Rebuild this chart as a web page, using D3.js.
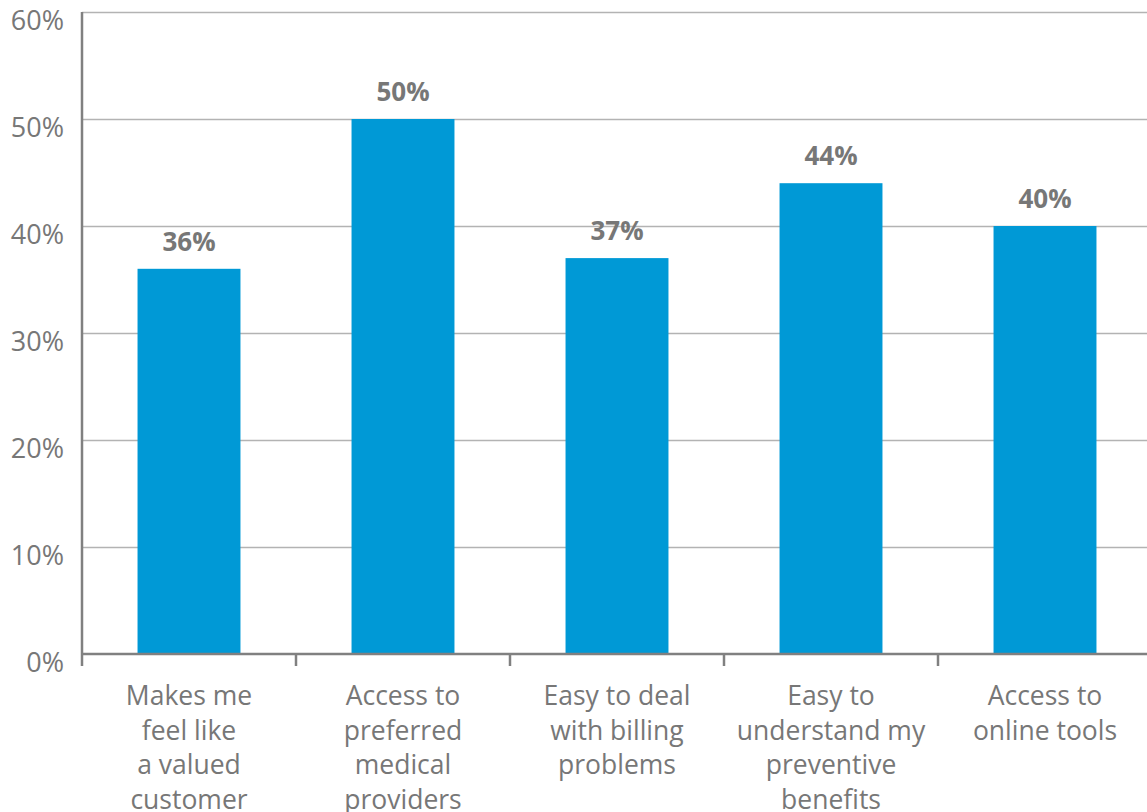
<!DOCTYPE html>
<html>
<head>
<meta charset="utf-8">
<script src="https://cdn.jsdelivr.net/npm/d3@7"></script>
<style>
  html, body { margin: 0; padding: 0; background: #fff; }
  svg { display: block; }
  text { font-family: "Open Sans", "Noto Sans", sans-serif; }
</style>
</head>
<body>
<svg id="chart" width="1147" height="812"></svg>
<script>
// Survey responses: share of respondents choosing each factor
const categories = [
  "Makes me feel like a valued customer",
  "Access to preferred medical providers",
  "Easy to deal with billing problems",
  "Easy to understand my preventive benefits",
  "Access to online tools"
];
const categoryLines = [
  ["Makes me", "feel like", "a valued", "customer"],
  ["Access to", "preferred", "medical", "providers"],
  ["Easy to deal", "with billing", "problems"],
  ["Easy to", "understand my", "preventive", "benefits"],
  ["Access to", "online tools"]
];
const values = [36, 50, 37, 44, 40];
const yTicks = [0, 10, 20, 30, 40, 50, 60];

const svg = d3.select("#chart");
const plotLeft = 82, plotRight = 1152, plotTop = 12, plotBottom = 654;

const x = d3.scaleBand()
  .domain(categories)
  .range([plotLeft, plotRight])
  .paddingInner(0.519)
  .paddingOuter(0.2595);

const y = d3.scaleLinear().domain([0, 60]).range([plotBottom, plotTop]);

const gridColor = "#b3b3b3";
const axisColor = "#808080";
const textColor = "#777777";

// Horizontal gridlines
svg.append("g")
  .selectAll("line")
  .data(yTicks.filter(d => d > 0))
  .join("line")
  .attr("x1", plotLeft)
  .attr("x2", 1147)
  .attr("y1", d => Math.round(y(d)) + 0.5)
  .attr("y2", d => Math.round(y(d)) + 0.5)
  .attr("stroke", gridColor)
  .attr("stroke-width", 1.5);

// Bars
svg.append("g")
  .selectAll("rect")
  .data(values)
  .join("rect")
  .attr("x", (d, i) => x(categories[i]))
  .attr("width", x.bandwidth())
  .attr("y", d => y(d))
  .attr("height", d => y(0) - y(d))
  .attr("fill", "#0099d6");

// Value labels above bars
svg.append("g")
  .selectAll("text")
  .data(values)
  .join("text")
  .attr("x", (d, i) => x(categories[i]) + x.bandwidth() / 2)
  .attr("y", d => y(d) - 18)
  .attr("text-anchor", "middle")
  .attr("font-size", 26)
  .attr("font-weight", 700)
  .attr("fill", textColor)
  .text(d => d + "%");

// Y axis: tick labels
const yAxis = d3.axisLeft(y)
  .tickValues(yTicks)
  .tickSize(0)
  .tickPadding(18)
  .tickFormat(d => d + "%");

const gy = svg.append("g")
  .attr("transform", `translate(${plotLeft},0)`)
  .call(yAxis);
gy.select(".domain").remove();
gy.selectAll("text")
  .attr("font-size", 27)
  .attr("fill", textColor)
  .attr("font-family", "\"Open Sans\", sans-serif")
  .attr("dy", "0.65em");

svg.append("line")
  .attr("x1", plotLeft).attr("x2", plotLeft)
  .attr("y1", plotTop).attr("y2", plotBottom + 12)
  .attr("stroke", axisColor)
  .attr("stroke-width", 2.5);

// X axis: baseline and boundary ticks
svg.append("line")
  .attr("x1", plotLeft).attr("x2", 1147)
  .attr("y1", plotBottom).attr("y2", plotBottom)
  .attr("stroke", axisColor)
  .attr("stroke-width", 2.5);

const boundaries = categories.map(c => x(c) - x.step() * x.paddingInner() / 2).slice(1);
svg.append("g")
  .selectAll("line")
  .data(boundaries)
  .join("line")
  .attr("x1", d => d).attr("x2", d => d)
  .attr("y1", plotBottom).attr("y2", plotBottom + 12)
  .attr("stroke", axisColor)
  .attr("stroke-width", 2.5);

// Category labels, wrapped onto several lines
const labels = svg.append("g")
  .selectAll("text")
  .data(categories)
  .join("text")
  .attr("x", d => x(d) + x.bandwidth() / 2)
  .attr("y", 705)
  .attr("text-anchor", "middle")
  .attr("font-size", 26.5)
  .attr("fill", textColor);

labels.each(function(d, i) {
  d3.select(this).selectAll("tspan")
    .data(categoryLines[i])
    .join("tspan")
    .attr("x", x(d) + x.bandwidth() / 2)
    .attr("dy", (t, j) => j === 0 ? 0 : 34.7)
    .text(t => t);
});
</script>
</body>
</html>
